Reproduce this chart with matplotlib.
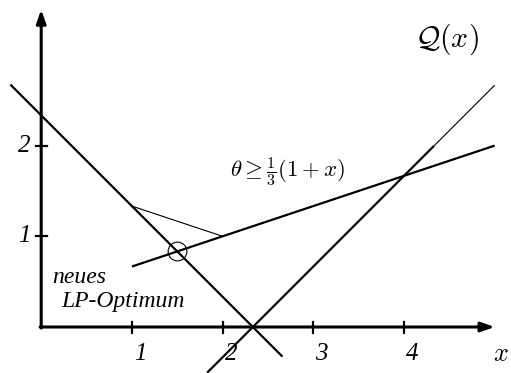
import numpy as np
import matplotlib
matplotlib.use("Agg")
import matplotlib.pyplot as plt

plt.rcParams['mathtext.fontset'] = 'cm'

# optimality cuts  theta >= slope * x + intercept, with drawn x-range
cut_desc = dict(slope=-1.0, intercept=7/3, x0=-0.34, x1=2.66)
cut_new = dict(slope=1/3, intercept=1/3, x0=1.0, x1=5.0)
cut_asc = dict(slope=1.0, intercept=-7/3, x0=1.83, x1=4.33, x_thin=5.0)

# previous piece of the approximation and the new LP optimum
prev_x = [1.0, 2.0]
prev_y = [4/3, 1.0]
opt_x = 1.5
opt_y = 5/6

xticks = [1, 2, 3, 4]
xtick_labels = ['1', '2', '3', '4']
yticks = [1, 2]
ytick_labels = ['1', '2']

W, H, DPI = 511, 373, 100
fig = plt.figure(figsize=(W / DPI, H / DPI), dpi=DPI)
ax = fig.add_axes([0, 0, 1, 1])
scale = 90.7
ox, oy = 41.2, 327.0
ax.set_xlim(-ox / scale, (W - ox) / scale)
ax.set_ylim(-(H - oy) / scale, oy / scale)
ax.axis('off')


def line(c, xa, xb, lw):
    xs = np.array([xa, xb])
    ax.plot(xs, c['slope'] * xs + c['intercept'], color='black', lw=lw,
            solid_capstyle='butt')


line(cut_desc, cut_desc['x0'], cut_desc['x1'], 1.6)
line(cut_new, cut_new['x0'], cut_new['x1'], 1.6)
line(cut_asc, cut_asc['x0'], cut_asc['x1'], 1.6)
line(cut_asc, cut_asc['x1'], cut_asc['x_thin'], 0.8)
ax.plot(prev_x, prev_y, color='black', lw=0.8)
ax.plot([opt_x], [opt_y], marker='o', ms=13.5, mfc='none', mec='black', mew=0.8)

# axes with arrow heads
arrow = dict(arrowstyle='-|>,head_length=0.8,head_width=0.28', lw=2.2,
             color='black', shrinkA=0, shrinkB=0, mutation_scale=10)
ax.annotate('', xy=(0, 3.5), xytext=(0, -0.012), arrowprops=arrow)
ax.annotate('', xy=(5.0, 0), xytext=(-0.012, 0), arrowprops=arrow)

d = 5.5 / scale
for t in xticks:
    ax.plot([t, t], [-d, d], color='black', lw=1.6)
for t in yticks:
    ax.plot([-d, d], [t, t], color='black', lw=1.6)

lab = dict(family='Liberation Serif', style='italic', fontsize=18)
for t, s in zip(xticks, xtick_labels):
    ax.text(t + 0.09, -0.30, s, ha='center', va='center', **lab)
ax.text(5.07, -0.30, r'$x$', ha='center', va='center', fontsize=19)
for t, s in zip(yticks, ytick_labels):
    ax.text(-0.19, t, s, ha='center', va='center', **lab)

txt = dict(family='Liberation Serif', style='italic', fontsize=17)
ax.text(0.12, 0.485, 'neues', ha='left', va='baseline', **txt)
ax.text(0.22, 0.224, 'LP-Optimum', ha='left', va='baseline', **txt)

ax.text(2.08, 1.65, r'$\theta \geq \frac{1}{3}(1+x)$', ha='left',
        va='baseline', fontsize=16.5)
ax.text(4.12, 3.09, r'$\mathcal{Q}(x)$', ha='left', va='baseline',
        fontsize=21.5)

fig.savefig('out.png', dpi=DPI)
